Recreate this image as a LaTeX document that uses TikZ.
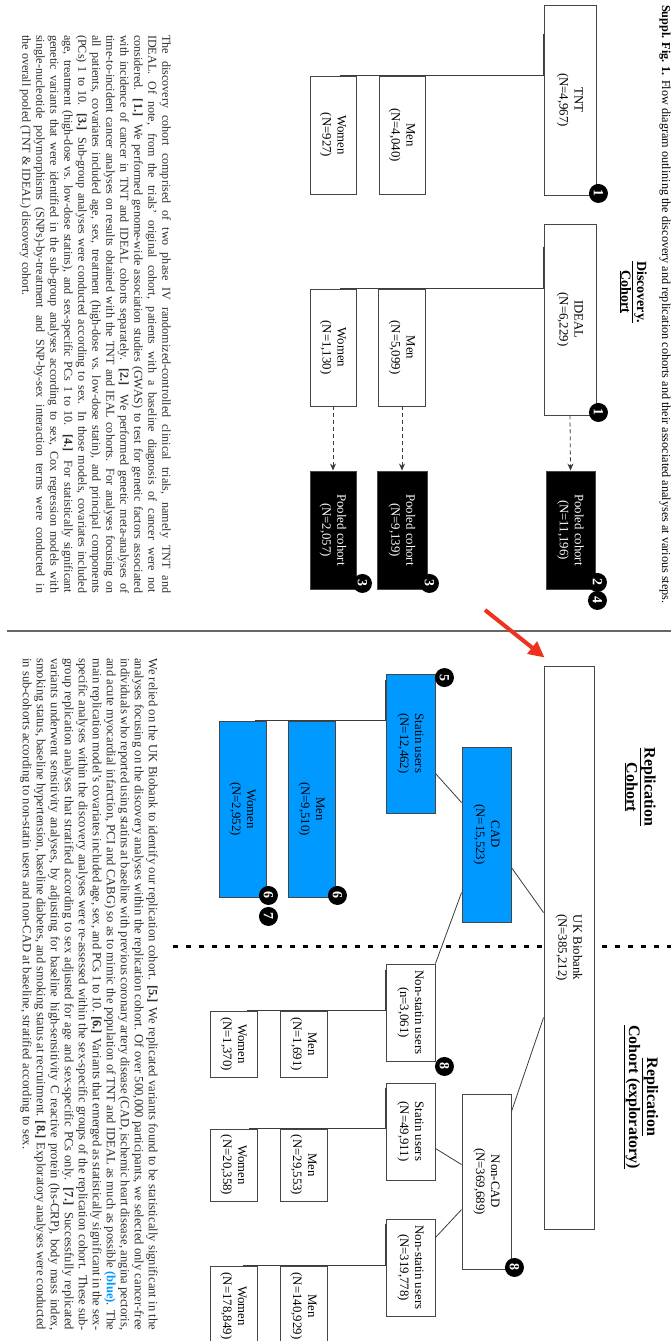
\documentclass[tikz,border=0pt]{standalone}
\usepackage{fontspec}
\setmainfont{Liberation Serif}
\usetikzlibrary{calc,positioning,arrows.meta}
\definecolor{cohortblue}{RGB}{0,153,255}
\definecolor{boxgray}{RGB}{70,70,70}
\definecolor{linkgray}{RGB}{60,60,60}
\definecolor{arrowred}{RGB}{238,50,30}
\definecolor{textgray}{RGB}{45,45,45}

\begin{document}
\begin{tikzpicture}[
  x=1pt, y=1pt,
  sz/.style 2 args={minimum width=#1pt, minimum height=#2pt},
  box/.style={draw=boxgray, line width=0.9pt, fill=white, align=center,
    inner sep=1pt, font=\fontsize{12.8}{15}\selectfont},
  bluebox/.style={box, fill=cohortblue},
  poolbox/.style={box, fill=black, text=white},
  badge/.style={circle, fill=black, text=white, inner sep=0pt,
    minimum size=19pt, font=\bfseries\fontsize{14}{14}\selectfont},
  link/.style={draw=linkgray, line width=0.8pt},
  dasharrow/.style={link, dash pattern=on 4pt off 3pt,
    -{Stealth[length=7pt, width=6pt]}},
  heading/.style={align=center, inner sep=0pt, font=\bfseries\fontsize{16}{18}\selectfont},
  para/.style={align=justify, inner sep=0pt, text=textgray},
]
\begin{scope}[rotate=-90, transform shape]
  \useasboundingbox (0,0) rectangle (1341,671);
  \fill[white] (0,0) rectangle (1341,671);
  \clip (0,0) rectangle (1341,671);

  % Title
  \node[anchor=base west, inner sep=0pt, font=\fontsize{12.2}{14}\selectfont] (title) at (5,662)
    {\textbf{Suppl. Fig. 1.} Flow diagram outlining the discovery and replication cohorts and their associated analyses at various steps.};

  % Discovery cohort
  \node[heading, font=\bfseries\fontsize{14}{14}\selectfont] (dischead) at (292,633)
    {\underline{Discovery.}\\\underline{Cohort}};
  \node[box, sz={190}{52}] (tnt) at (100,570) {TNT\\(N=4,967)};
  \node[box, sz={118}{46}] (tntmen) at (135,402) {Men\\(N=4,040)};
  \node[box, sz={118}{46}] (tntwomen) at (135,333) {Women\\(N=927)};
  \node[box, sz={191}{52}] (ideal) at (319.5,570) {IDEAL\\(N=6,229)};
  \node[box, sz={117}{47}] (idealmen) at (347.5,402) {Men\\(N=5,099)};
  \node[box, sz={117}{46}] (idealwomen) at (347.5,333) {Women\\(N=1,130)};
  \node[poolbox, sz={118}{49}] (pool) at (530,570.5) {Pooled cohort\\(N=11,196)};
  \node[poolbox, sz={118}{50}] (poolmen) at (530,402) {Pooled cohort\\(N=9,139)};
  \node[poolbox, sz={118}{46}] (poolwomen) at (530,333) {Pooled cohort\\(N=2,057)};

  \draw[link] ($(tnt.south west)+(29,0)$) -| ($(tntwomen.west)+(0,7)$);
  \draw[link] ($(tnt.south west)+(62,0)$) -| ($(tntmen.west)+(0,-4)$);
  \draw[link] ($(ideal.south west)+(23,0)$) -| ($(idealwomen.west)+(0,7)$);
  \draw[link] ($(ideal.south west)+(55,0)$) -| ($(idealmen.west)+(0,-4)$);
  \draw[dasharrow] (ideal.east) -- (pool.west);
  \draw[dasharrow] (idealmen.east) -- (poolmen.west);
  \draw[dasharrow] (idealwomen.east) -- (poolwomen.west);

  \node[badge] (b1a) at ($(tnt.north east)+(-2,2)$) {1};
  \node[badge] (b1b) at ($(ideal.north east)+(-3,2)$) {1};
  \node[badge] (b2) at ($(pool.north east)+(-7,2)$) {2};
  \node[badge] (b4) at ($(pool.north east)+(11,2)$) {4};
  \node[badge] (b3a) at ($(poolmen.north east)+(-6,2)$) {3};
  \node[badge] (b3b) at ($(poolwomen.north east)+(-6,6)$) {3};

  \node[para, font=\fontsize{12.1}{14}\selectfont, text width=558pt, anchor=north west] (disctext) at (35,171)
    {The discovery cohort comprised of two phase IV randomized-controlled clinical trials, namely TNT and\linebreak
    IDEAL. Of note, from the trials' original cohort, patients with a baseline diagnosis of cancer were not\linebreak
    considered. \textbf{[1.]} We performed genome-wide association studies (GWAS) to test for genetic factors associated\linebreak
    with incidence of cancer in TNT and IDEAL cohorts separately. \textbf{[2.]} We performed genetic meta-analyses of\linebreak
    time-to-incident cancer analyses on results obtained with the TNT and IEAL cohorts. For analyses focusing on\linebreak
    all patients, covariates included age, sex, treatment (high-dose vs.\ low-dose statin), and principal components\linebreak
    (PCs) 1 to 10. \textbf{[3.]} Sub-group analyses were conducted according to sex. In those models, covariates included\linebreak
    age, treatment (high-dose vs.\ low-dose statins), and sex-specific PCs 1 to 10. \textbf{[4.]} For statistically significant\linebreak
    genetic variants that were identified in the sub-group analyses according to sex, Cox regression models with\linebreak
    single-nucleotide polymorphisms (SNPs)-by-treatment and SNP-by-sex interaction terms were conducted in\linebreak
    the overall pooled (TNT \& IDEAL) discovery cohort.};

  % Separators
  \draw[gray!80!black, line width=1.2pt] (631,7) -- (631,671);
  \draw[black, line width=3pt, dash pattern=on 5pt off 8pt] (946,173) -- (946,671);

  % Replication cohort
  \node[heading] (rephead) at (787,640) {\underline{Replication}\\\underline{Cohort}};
  \node[heading] (exphead) at (1097,641) {\underline{Replication}\\\underline{Cohort (exploratory)}};

  \node[box, sz={563}{50}] (ukb) at (947.5,569) {UK Biobank\\(N=385,212)};
  \node[bluebox, sz={175}{49}] (cad) at (834.5,486.5) {CAD\\(N=15,523)};
  \node[bluebox, sz={139}{49}] (statin) at (743.5,410.5) {Statin users\\(N=12,462)};
  \node[bluebox, sz={176}{47}] (statinmen) at (809,311.5) {Men\\(N=9,510)};
  \node[bluebox, sz={176}{47}] (statinwomen) at (809,242.5) {Women\\(N=2,952)};

  \node[box, sz={97}{49}] (nonstat) at (1012.5,410.5) {Non-statin users\\(n=3,061)};
  \node[box, sz={66}{47}] (nonstatmen) at (1044,303.5) {Men\\(N=1,691)};
  \node[box, sz={66}{47}] (nonstatwomen) at (1044,233.5) {Women\\(N=1,370)};
  \node[box, sz={175}{49}] (noncad) at (1181.5,486.5) {Non-CAD\\(N=369,689)};
  \node[box, sz={97}{49}] (ncstatin) at (1131.5,410.5) {Statin users\\(N=49,911)};
  \node[box, sz={72}{47}] (ncstatinmen) at (1165,303.5) {Men\\(N=29,553)};
  \node[box, sz={72}{47}] (ncstatinwomen) at (1165,233.5) {Women\\(N=20,358)};
  \node[box, sz={97}{49}] (ncnonstat) at (1267.5,410.5) {Non-statin users\\(N=319,778)};
  \node[box, sz={80}{47}] (ncnonstatmen) at (1306,303.5) {Men\\(N=140,929)};
  \node[box, sz={80}{47}] (ncnonstatwomen) at (1306,233.5) {Women\\(N=178,849)};

  \draw[link] ($(statin.north east)+(-40,0)$) -- ($(cad.south west)+(56,0)$);
  \draw[link] ($(cad.north west)+(121,0)$) -- ($(ukb.south west)+(247,0)$);
  \draw[link] ($(cad.south west)+(146,0)$) -- (nonstat.north west);
  \draw[link] ($(ukb.south west)+(352,0)$) -- ($(noncad.north west)+(18,0)$);
  \draw[link] ($(ncstatin.north east)+(-32,0)$) -- ($(noncad.south west)+(71,0)$);
  \draw[link] ($(noncad.south west)+(116,0)$) -- ($(ncnonstat.north west)+(19,0)$);

  \draw[link] ($(statin.south west)+(6,0)$) -| ($(statinwomen.west)+(0,12.5)$);
  \draw[link] ($(statin.south west)+(38,0)$) -| ($(statinmen.west)+(0,-8.5)$);
  \draw[link] ($(nonstat.south west)+(6,0)$) -| ($(nonstatwomen.west)+(0,13.5)$);
  \draw[link] ($(nonstat.south west)+(38,0)$) -| ($(nonstatmen.west)+(0,-8.5)$);
  \draw[link] ($(ncstatin.south west)+(5,0)$) -| ($(ncstatinwomen.west)+(0,15.5)$);
  \draw[link] ($(ncstatin.south west)+(36,0)$) -| ($(ncstatinmen.west)+(0,-5.5)$);
  \draw[link] ($(ncnonstat.south west)+(5,0)$) -| ($(ncnonstatwomen.west)+(0,9.5)$);
  \draw[link] ($(ncnonstat.south west)+(37,0)$) -| ($(ncnonstatmen.west)+(0,-11.5)$);

  \node[badge] (b5) at ($(statin.north west)+(4,9)$) {5};
  \node[badge] (b6a) at ($(statinmen.north east)+(-2,2)$) {6};
  \node[badge] (b6b) at ($(statinwomen.north east)+(-2,2)$) {6};
  \node[badge] (b7) at ($(statinwomen.north east)+(19,2)$) {7};
  \node[badge] (b8a) at ($(nonstat.north east)+(5,9)$) {8};
  \node[badge] (b8b) at ($(noncad.north east)+(-2,3)$) {8};

  % Red pointer
  \coordinate (pointtail) at (610,485);
  \draw[arrowred, line width=4pt, -{Triangle[length=16pt, width=15pt]}]
    (pointtail) -- ($(ukb.south west)+(-8,1)$);

  \node[para, font=\fontsize{12.6}{14}\selectfont, text width=672pt, anchor=north west] (reptext) at (658,158)
    {We relied on the UK Biobank to identify our replication cohort. \textbf{[5.]} We replicated variants found to be statistically significant in the\linebreak
    analyses focusing on the discovery analyses within the replication cohort. Of over 500,000 participants, we selected only cancer-free\linebreak
    individuals who reported using statins at baseline with previous coronary artery disease (CAD, ischemic heart disease, angina pectoris,\linebreak
    and acute myocardial infarction, PCI and CABG) so as to mimic the population of TNT and IDEAL as much as possible \textcolor{cohortblue}{\textbf{(blue)}}. The\linebreak
    main replication model's covariates included age, sex, and PCs 1 to 10. \textbf{[6.]} Variants that emerged as statistically significant in the sex-\linebreak
    specific analyses within the discovery analyses were re-assessed within the sex-specific groups of the replication cohort. These sub-\linebreak
    group replication analyses that stratified according to sex adjusted for age and sex-specific PCs only. \textbf{[7.]} Successfully replicated\linebreak
    variants underwent sensitivity analyses, by adjusting for baseline high-sensitivity C reactive protein (hs-CRP), body mass index,\linebreak
    smoking status, baseline hypertension, baseline diabetes, and smoking status at recruitment. \textbf{[8.]} Exploratory analyses were conducted\linebreak
    in sub-cohorts according to non-statin users and non-CAD at baseline, stratified according to sex.};
\end{scope}
\end{tikzpicture}
\end{document}
